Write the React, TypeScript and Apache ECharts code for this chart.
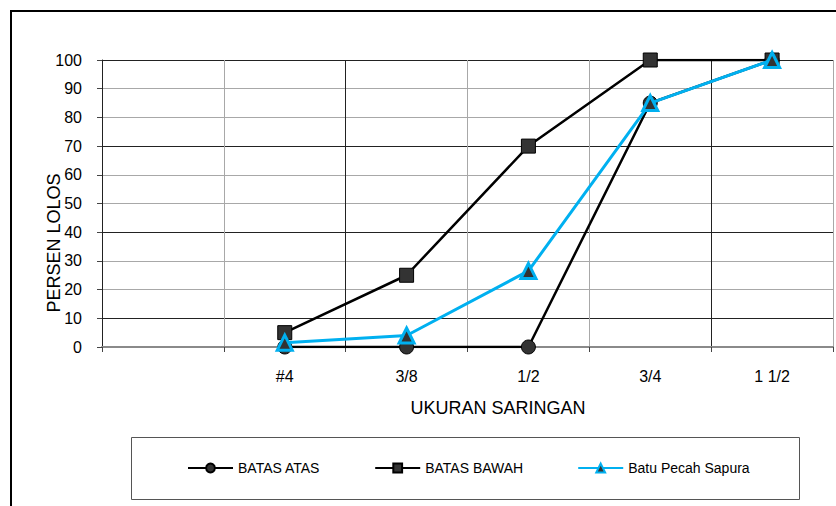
import React, { useEffect, useRef } from "react";
import * as echarts from "echarts";

const categories = ["", "#4", "3/8", "1/2", "3/4", "1 1/2"];
const batasAtas = [null, 0, 0, 0, 85, 100];
const batasBawah = [null, 5, 25, 70, 100, 100];
const batuPecah = [null, 1.5, 4, 26.5, 85, 100];
const seriesNames = ["BATAS ATAS", "BATAS BAWAH", "Batu Pecah Sapura"];
const yAxisTitle = "PERSEN LOLOS";
const xAxisTitle = "UKURAN SARINGAN";

const FONT = "'Liberation Sans', Arial, sans-serif";
const GRAY = "#a8a8a8";
const DARK = "#222";
const BLUE = "#00b0f0";

export default function App() {
  const ref = useRef<HTMLDivElement>(null);
  useEffect(() => {
    if (!ref.current) return;
    const chart = echarts.init(ref.current, null, { renderer: "svg" });
    chart.setOption({
      animation: false,
      backgroundColor: "#fff",
      textStyle: { fontFamily: FONT },
      grid: { left: 102, top: 60, right: 3, bottom: 159, containLabel: false },
      xAxis: {
        type: "category",
        data: categories,
        boundaryGap: true,
        axisLine: { show: true, lineStyle: { color: "#8a8a8a", width: 2 } },
        axisTick: { show: true, length: 5, interval: 0, lineStyle: { color: "#444" } },
        axisLabel: { interval: 0, fontSize: 16, color: "#000", margin: 21, fontFamily: FONT },
        splitLine: { show: true, interval: 0, lineStyle: { color: [GRAY, GRAY, DARK], width: 1 } },
      },
      yAxis: {
        type: "value",
        min: 0,
        max: 100,
        interval: 10,
        axisLine: { show: true, lineStyle: { color: DARK, width: 1 } },
        axisTick: { show: true, length: 5, lineStyle: { color: "#444" } },
        axisLabel: { fontSize: 16, color: "#000", margin: 20, fontFamily: FONT },
        splitLine: { show: true, lineStyle: { color: [GRAY, DARK, GRAY], width: 1 } },
      },
      legend: {
        left: 187,
        top: 461,
        padding: 0,
        itemGap: 54,
        itemWidth: 45,
        itemHeight: 11,
        textStyle: { fontSize: 14, color: "#000", fontFamily: FONT },
        data: seriesNames,
      },
      graphic: [
        {
          type: "rect",
          shape: { x: 11, y: 11, width: 860, height: 520 },
          style: { fill: "none", stroke: "#000", lineWidth: 2 },
          silent: true,
        },
        {
          type: "rect",
          shape: { x: 131.5, y: 437.5, width: 668, height: 62 },
          style: { fill: "none", stroke: "#555", lineWidth: 1 },
          silent: true,
        },
        {
          type: "text",
          x: 54,
          y: 243,
          rotation: Math.PI / 2,
          style: {
            text: yAxisTitle,
            fontSize: 18,
            fontFamily: FONT,
            fill: "#000",
            align: "center",
            verticalAlign: "middle",
          },
        },
        {
          type: "text",
          x: 498,
          y: 408,
          style: {
            text: xAxisTitle,
            fontSize: 18,
            fontFamily: FONT,
            fill: "#000",
            align: "center",
            verticalAlign: "middle",
          },
        },
      ],
      series: [
        {
          name: seriesNames[0],
          type: "line",
          data: batasAtas,
          symbol: "circle",
          symbolSize: 14,
          lineStyle: { color: "#000", width: 2.5 },
          itemStyle: { color: "#333", borderColor: "#000", borderWidth: 1 },
          z: 2,
        },
        {
          name: seriesNames[1],
          type: "line",
          data: batasBawah,
          symbol: "rect",
          symbolSize: 14,
          lineStyle: { color: "#000", width: 2.5 },
          itemStyle: { color: "#333", borderColor: "#000", borderWidth: 1 },
          z: 3,
        },
        {
          name: seriesNames[2],
          type: "line",
          data: batuPecah,
          symbol: "triangle",
          symbolSize: 15,
          lineStyle: { color: BLUE, width: 3 },
          itemStyle: { color: "#333", borderColor: BLUE, borderWidth: 3 },
          z: 4,
        },
      ],
    });
    return () => chart.dispose();
  }, []);
  return (
    <div
      ref={ref}
      style={{ position: "fixed", left: 0, top: 0, width: 836, height: 506, background: "#fff" }}
    />
  );
}
